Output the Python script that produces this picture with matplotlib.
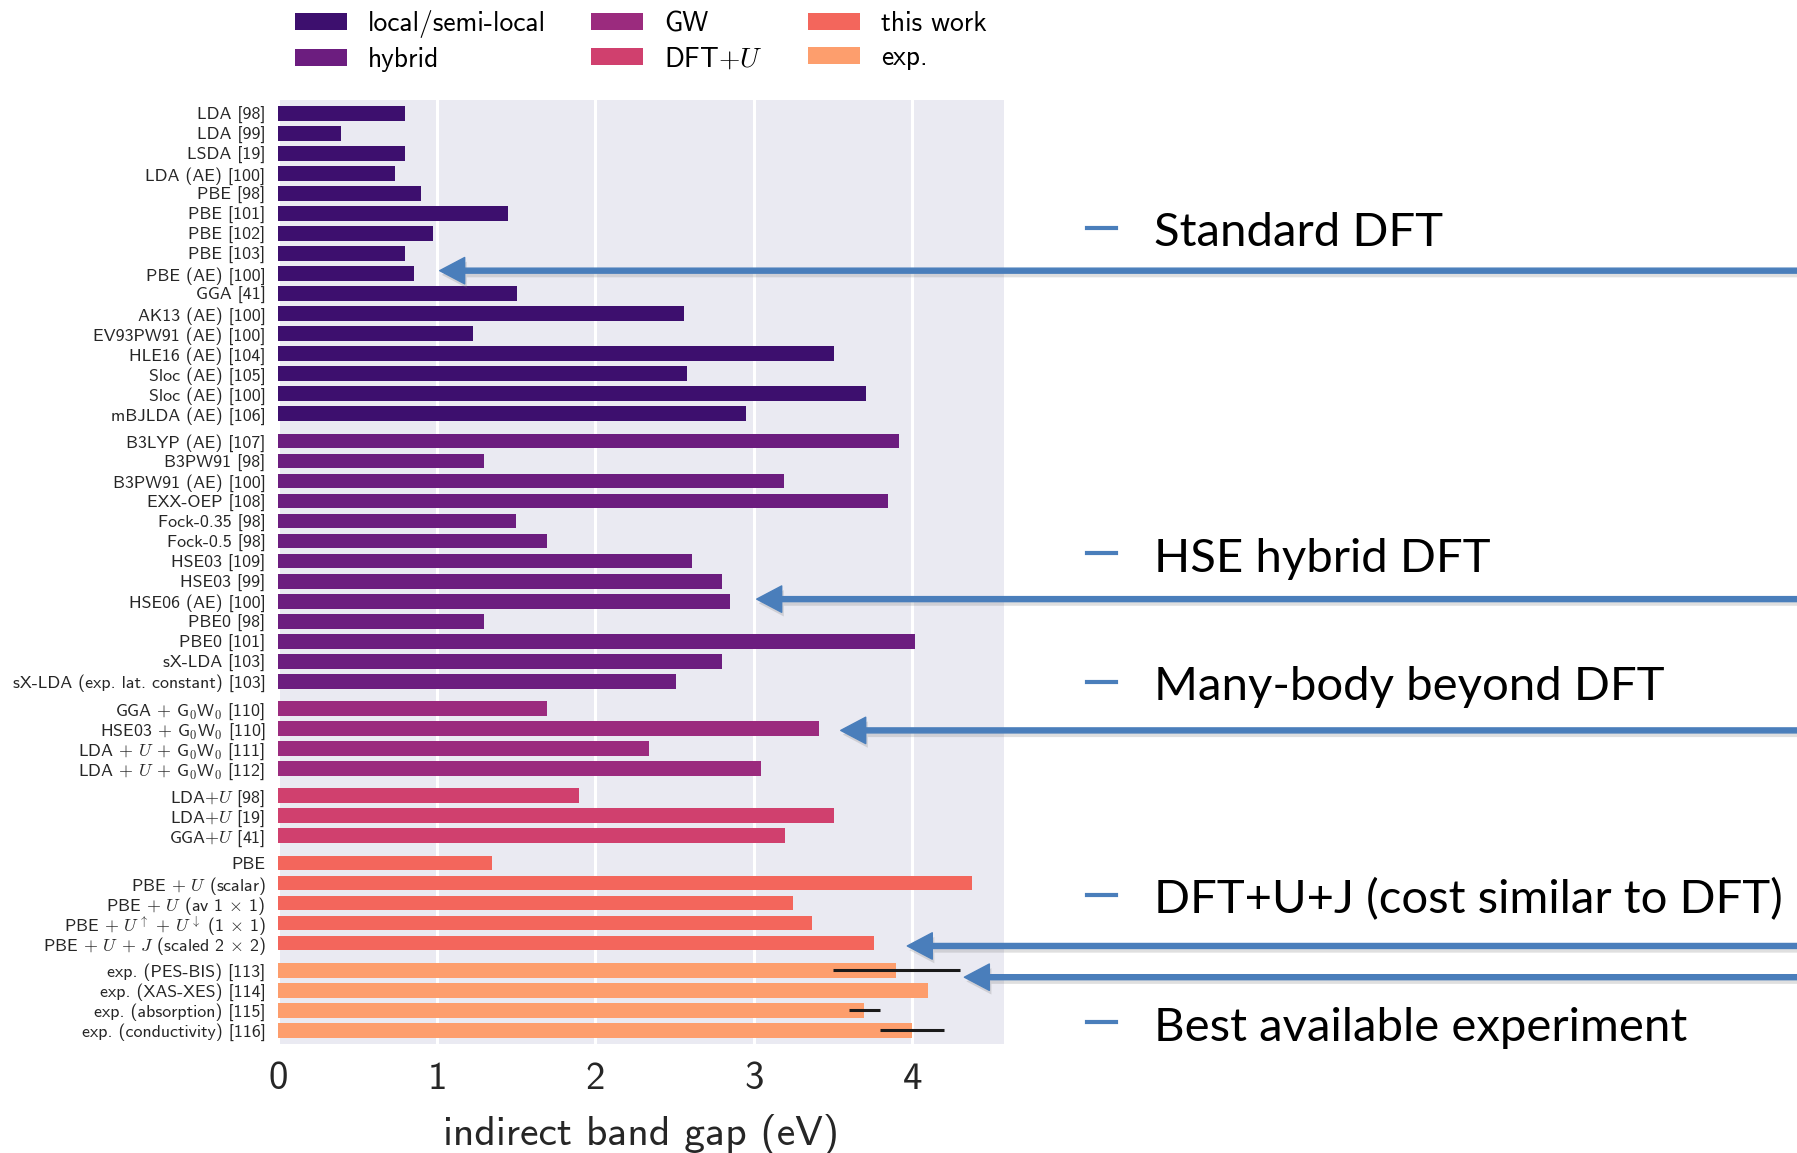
import matplotlib
matplotlib.use("Agg")
import matplotlib.pyplot as plt
import matplotlib.patheffects as pe
from matplotlib.lines import Line2D
import numpy as np

plt.rcParams["font.family"] = ["cmss10", "DejaVu Sans"]
plt.rcParams["mathtext.fontset"] = "cm"
plt.rcParams["axes.unicode_minus"] = False
plt.rcParams["axes.formatter.use_mathtext"] = True

# Data
group_names = ["local/semi-local", "hybrid", "GW", "DFT$+U$", "this work", "exp."]
group_colors = ["#3d0f6e", "#6c1d7f", "#9b2b7e", "#d0406e", "#f3665c", "#fd9e6d"]

local_labels = ["LDA [98]", "LDA [99]", "LSDA [19]", "LDA (AE) [100]", "PBE [98]",
                "PBE [101]", "PBE [102]", "PBE [103]", "PBE (AE) [100]", "GGA [41]",
                "AK13 (AE) [100]", "EV93PW91 (AE) [100]", "HLE16 (AE) [104]",
                "Sloc (AE) [105]", "Sloc (AE) [100]", "mBJLDA (AE) [106]"]
local_gap = [0.80, 0.40, 0.80, 0.74, 0.90, 1.45, 0.98, 0.80, 0.86, 1.51,
             2.56, 1.23, 3.51, 2.58, 3.71, 2.95]

hybrid_labels = ["B3LYP (AE) [107]", "B3PW91 [98]", "B3PW91 (AE) [100]", "EXX-OEP [108]",
                 "Fock-0.35 [98]", "Fock-0.5 [98]", "HSE03 [109]", "HSE03 [99]",
                 "HSE06 (AE) [100]", "PBE0 [98]", "PBE0 [101]", "sX-LDA [103]",
                 "sX-LDA (exp. lat. constant) [103]"]
hybrid_gap = [3.92, 1.30, 3.19, 3.85, 1.50, 1.70, 2.61, 2.80, 2.85, 1.30, 4.02, 2.80, 2.51]

gw_labels = ["GGA $+$ G$_0$W$_0$ [110]", "HSE03 $+$ G$_0$W$_0$ [110]",
             "LDA $+$ $U$ $+$ G$_0$W$_0$ [111]", "LDA $+$ $U$ $+$ G$_0$W$_0$ [112]"]
gw_gap = [1.70, 3.41, 2.34, 3.05]

dftu_labels = ["LDA$+U$ [98]", "LDA$+U$ [19]", "GGA$+U$ [41]"]
dftu_gap = [1.90, 3.51, 3.20]

work_labels = ["PBE", "PBE $+$ $U$ (scalar)", "PBE $+$ $U$ (av 1 $\\times$ 1)",
               "PBE $+$ $U^{\\uparrow}$ $+$ $U^{\\downarrow}$ (1 $\\times$ 1)",
               "PBE $+$ $U$ $+$ $J$ (scaled 2 $\\times$ 2)"]
work_gap = [1.35, 4.38, 3.25, 3.37, 3.76]

exp_labels = ["exp. (PES-BIS) [113]", "exp. (XAS-XES) [114]",
              "exp. (absorption) [115]", "exp. (conductivity) [116]"]
exp_gap = [3.90, 4.10, 3.70, 4.00]
exp_err = [0.40, np.nan, 0.10, 0.20]

# right-hand commentary
note_texts = ["Standard DFT", "HSE hybrid DFT", "Many-body beyond DFT",
              "DFT+U+J (cost similar to DFT)", "Best available experiment"]
note_y = [0.7863, 0.504, 0.3927, 0.2078, 0.0974]
arrow_rows = ["PBE (AE) [100]", "HSE06 (AE) [100]", "HSE03 $+$ G$_0$W$_0$ [110]",
              "PBE $+$ $U$ $+$ $J$ (scaled 2 $\\times$ 2)", "exp. (PES-BIS) [113]"]
arrow_tip = [1.02, 3.02, 3.55, 3.97, 4.33]
arrow_dy = [-0.15, -0.1, 0.1, 0.15, 0.35]

groups = [(local_labels, local_gap), (hybrid_labels, hybrid_gap), (gw_labels, gw_gap),
          (dftu_labels, dftu_gap), (work_labels, work_gap), (exp_labels, exp_gap)]

# row positions, with a small gap between groups
gap_extra = 0.36
pos = []
start = 0.0
for labels, vals in groups:
    pos.append(start + np.arange(len(labels)))
    start = pos[-1][-1] + 1 + gap_extra

all_labels = sum([g[0] for g in groups], [])
all_pos = np.concatenate(pos)

fig = plt.figure(figsize=(17.97, 11.53), dpi=100)
ax = fig.add_axes([0.1547, 0.0945, 0.404, 0.819])
ax.set_facecolor("#eaeaf2")

for (labels, vals), y, col, name in zip(groups, pos, group_colors, group_names):
    ax.barh(y, vals, height=0.74, color=col, label=name, zorder=2)

ax.errorbar(exp_gap, pos[-1], xerr=exp_err, fmt="none", ecolor="#1a1a1a",
            elinewidth=2.2, capsize=0, zorder=3)

ax.set_yticks(all_pos)
ax.set_yticklabels(all_labels, fontsize=12.9)
ax.set_ylim(all_pos[-1] + 0.69, all_pos[0] - 0.69)
ax.set_xlim(0, 4.58)
ax.set_xticks([0, 1, 2, 3, 4])
ax.tick_params(axis="x", labelsize=28, length=0, pad=13, colors="#262626")
ax.tick_params(axis="y", length=0, pad=9, colors="#262626")
ax.set_xlabel("indirect band gap (eV)", fontsize=30, color="#262626", labelpad=12)
ax.grid(axis="x", color="white", linewidth=2.2, zorder=1)
ax.grid(axis="y", visible=False)
ax.set_axisbelow(True)
for spine in ax.spines.values():
    spine.set_visible(False)

fig.legend(loc="upper left", bbox_to_anchor=(0.1533, 1.008), ncol=3, frameon=False,
           fontsize=19.8, handlelength=1.9, handleheight=0.6, handletextpad=0.75,
           columnspacing=1.65, labelspacing=0.34, borderaxespad=0.3)

# commentary on the right
blue = "#4a7ebb"
for txt, y in zip(note_texts, note_y):
    fig.add_artist(Line2D([0.605, 0.621], [y + 0.016, y + 0.016],
                          transform=fig.transFigure, color=blue, lw=3))
    fig.text(0.642, y, txt, fontsize=34, family="Lato", va="baseline", color="black")

for row, tip, dy in zip(arrow_rows, arrow_tip, arrow_dy):
    yy = all_pos[all_labels.index(row)] + dy
    ann = ax.annotate("", xy=(tip, yy), xycoords="data",
                      xytext=(1.0, yy), textcoords=("figure fraction", "data"),
                      annotation_clip=False,
                      arrowprops=dict(width=3.6, headwidth=19, headlength=18,
                                      facecolor=blue, edgecolor=blue, shrink=0.0))
    ann.arrow_patch.set_path_effects([
        pe.SimplePatchShadow(offset=(1.5, -3), alpha=0.25, shadow_rgbFace="gray"),
        pe.Normal()])

fig.savefig("out.png", dpi=100)
